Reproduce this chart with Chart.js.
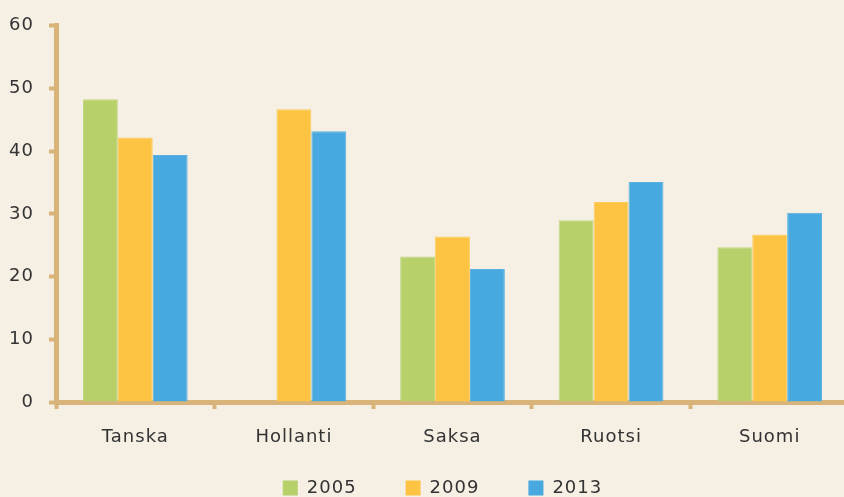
<!DOCTYPE html>
<html>
<head>
<meta charset="utf-8">
<script src="https://cdn.jsdelivr.net/npm/chart.js@4"></script>
<style>
html,body{margin:0;padding:0;background:#F5EFE4;overflow:hidden;}
#wrap{width:844px;height:497px;position:relative;overflow:hidden;}
</style>
</head>
<body>
<div id="wrap"><canvas id="c" width="849" height="497"></canvas></div>
<script>
const categories = ["Tanska", "Hollanti", "Saksa", "Ruotsi", "Suomi"];
const seriesNames = ["2005", "2009", "2013"];
const values2005 = [48.3, null, 23.2, 29.0, 24.7];
const values2009 = [42.2, 46.7, 26.4, 31.9, 26.7];
const values2013 = [39.4, 43.2, 21.2, 35.1, 30.2];
const yTicks = [0, 10, 20, 30, 40, 50, 60];

const colors = ["#B8D06A", "#FDC443", "#47A9DF"];
const edgeColors = ["#C3D683", "#FDCB5C", "#5BB2E2"];
const axisColor = "#D8B47A";
const textColor = "#333333";
const font = {family: "'DejaVu Sans', sans-serif", size: 18};

const stylePlugin = {
  id: 'style',
  beforeUpdate(chart) { chart.ctx.letterSpacing = '1px'; },
  beforeDraw(chart) {
    const ctx = chart.ctx;
    ctx.letterSpacing = '1px';
    ctx.save();
    ctx.fillStyle = '#F5EFE4';
    ctx.fillRect(0, 0, chart.width, chart.height);
    ctx.restore();
  },
  afterLayout(chart) {
    const lg = chart.legend;
    if (lg) {
      lg.top -= 17;
      lg.left += 18;
      lg.right += 18;
    }
  }
};

new Chart(document.getElementById('c'), {
  type: 'bar',
  data: {
    labels: categories,
    datasets: [values2005, values2009, values2013].map((d, i) => ({
      label: seriesNames[i],
      data: d,
      backgroundColor: colors[i],
      borderColor: edgeColors[i],
      borderWidth: 1,
      categoryPercentage: 0.66,
      barPercentage: 1.0
    }))
  },
  options: {
    responsive: false,
    animation: false,
    devicePixelRatio: 1,
    layout: {padding: {top: 20, right: 0, bottom: 0, left: 0}},
    plugins: {
      legend: {
        position: 'bottom',
        maxHeight: 50,
        labels: {
          boxWidth: 15,
          boxHeight: 15,
          padding: 49,
          color: textColor,
          font: font,
          generateLabels(chart) {
            return chart.data.datasets.map((ds, i) => ({
              text: ds.label,
              fillStyle: colors[i],
              strokeStyle: colors[i],
              lineWidth: 0,
              hidden: false,
              datasetIndex: i,
              fontColor: textColor
            }));
          }
        }
      },
      tooltip: {enabled: false}
    },
    scales: {
      x: {
        offset: true,
        grid: {
          offset: true,
          drawOnChartArea: false,
          drawTicks: true,
          tickLength: 7,
          tickWidth: 4,
          tickColor: axisColor,
          color: axisColor
        },
        border: {display: true, color: axisColor, width: 5},
        ticks: {color: textColor, font: font, padding: 18},
        afterFit(scale) { scale.height = 45; }
      },
      y: {
        min: 0,
        max: 60,
        afterBuildTicks(scale) { scale.ticks = yTicks.map(v => ({value: v})); },
        grid: {
          drawOnChartArea: false,
          drawTicks: true,
          tickLength: 7,
          tickWidth: 4,
          tickColor: axisColor,
          color: axisColor
        },
        border: {display: true, color: axisColor, width: 5},
        ticks: {color: textColor, font: font, padding: 15},
        afterFit(scale) { scale.width = 56; }
      }
    }
  },
  plugins: [stylePlugin]
});
</script>
</body>
</html>
